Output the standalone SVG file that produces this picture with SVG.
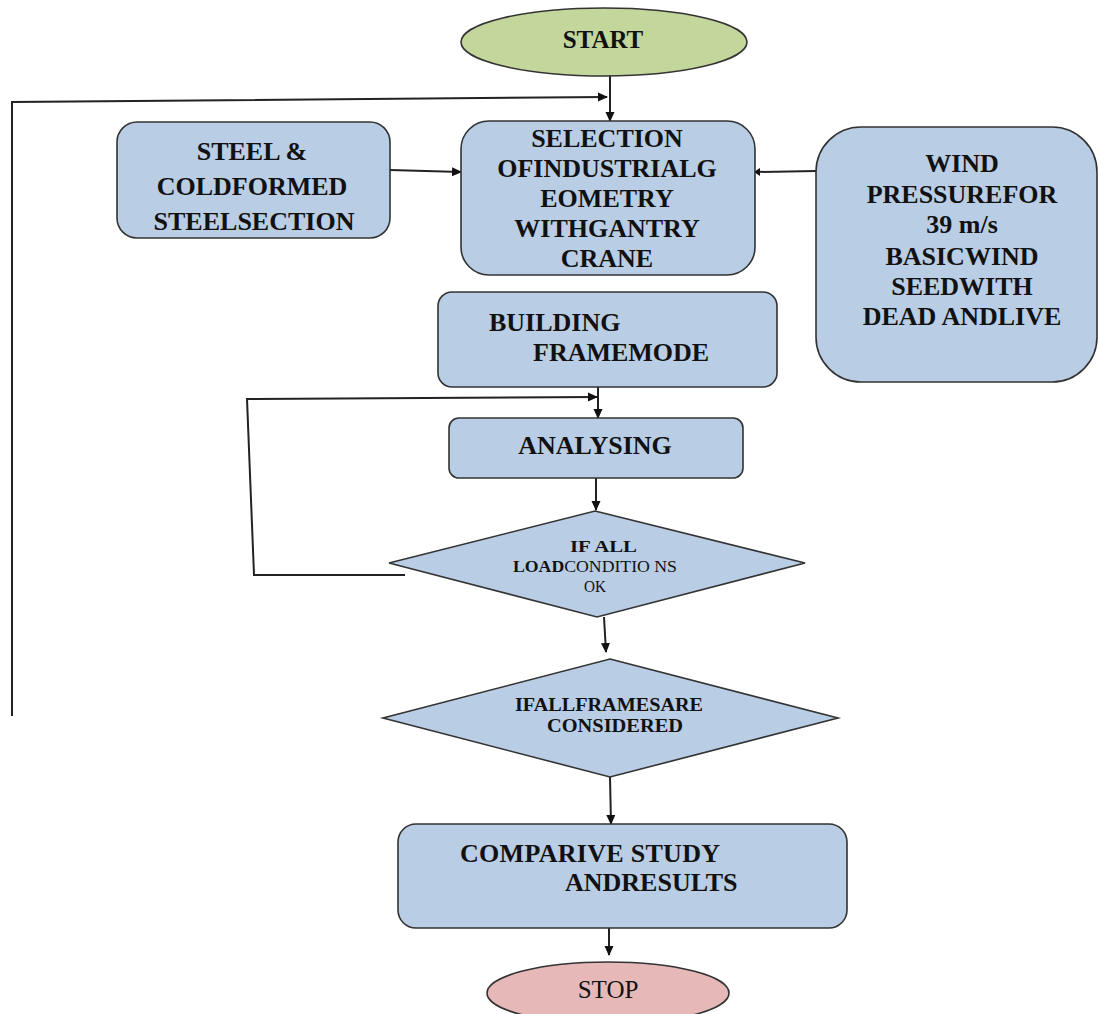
<svg xmlns="http://www.w3.org/2000/svg" width="1098" height="1014" viewBox="0 0 1098 1014">
<style>
.box{fill:#b9cde5;stroke:#333;stroke-width:1.6}
.t{font-family:"Liberation Serif","Times New Roman",serif;font-weight:bold;font-size:26px;fill:#111}
.c{text-anchor:middle}
.ln{fill:none;stroke:#222;stroke-width:2}
</style>
<defs>
<marker id="ah" markerWidth="10" markerHeight="10" refX="9" refY="5" orient="auto" markerUnits="userSpaceOnUse" viewBox="0 0 10 10">
<path d="M0,0.5 L10,5 L0,9.5 Z" fill="#111"/>
</marker>
<marker id="ahs" markerWidth="6" markerHeight="8" refX="5" refY="4" orient="auto" markerUnits="userSpaceOnUse" viewBox="0 0 6 8">
<path d="M0,0 L6,4 L0,8 Z" fill="#111"/>
</marker>
</defs>
<rect width="1098" height="1014" fill="#fff"/>

<g id="connectors">
<line class="ln" x1="610" y1="76" x2="610" y2="121" marker-end="url(#ah)"/>
<polyline class="ln" points="12,716 12,102 607,97" marker-end="url(#ah)"/>
<line class="ln" x1="390" y1="170" x2="461" y2="172" marker-end="url(#ah)"/>
<line class="ln" x1="816" y1="171" x2="755" y2="172" marker-end="url(#ahs)"/>
<line class="ln" x1="598" y1="387" x2="598" y2="418" marker-end="url(#ah)"/>
<polyline class="ln" points="405,575 254,575 247,399 597,397" marker-end="url(#ah)"/>
<line class="ln" x1="596" y1="478" x2="596" y2="510" marker-end="url(#ah)"/>
<line class="ln" x1="604" y1="617" x2="606" y2="652" marker-end="url(#ah)"/>
<line class="ln" x1="610" y1="777" x2="611" y2="824" marker-end="url(#ah)"/>
<line class="ln" x1="609" y1="928" x2="609" y2="955" marker-end="url(#ah)"/>
</g>

<g id="start">
<ellipse cx="604" cy="42" rx="143" ry="34" fill="#c3d69b" stroke="#333" stroke-width="1.6"/>
<text class="t c" x="603" y="48" style="font-size:25px">START</text>
</g>

<g id="selection">
<rect class="box" x="461" y="121" width="294" height="154" rx="28"/>
<text class="t c" x="607" y="147">SELECTION</text>
<text class="t c" x="607" y="177">OFINDUSTRIALG</text>
<text class="t c" x="607" y="207">EOMETRY</text>
<text class="t c" x="607" y="237">WITHGANTRY</text>
<text class="t c" x="607" y="267">CRANE</text>
</g>

<g id="steel">
<rect class="box" x="117" y="122" width="273" height="116" rx="20"/>
<text class="t c" x="252" y="160">STEEL &amp;</text>
<text class="t c" x="252" y="195">COLDFORMED</text>
<text class="t c" x="254" y="230">STEELSECTION</text>
</g>

<g id="wind">
<rect class="box" x="816" y="127" width="281" height="255" rx="45"/>
<text class="t c" x="962" y="172">WIND</text>
<text class="t c" x="962" y="203">PRESSUREFOR</text>
<text class="t c" x="962" y="233">39 m/s</text>
<text class="t c" x="962" y="265">BASICWIND</text>
<text class="t c" x="962" y="295">SEEDWITH</text>
<text class="t c" x="962" y="325">DEAD ANDLIVE</text>
</g>

<g id="building">
<rect class="box" x="438" y="292" width="339" height="95" rx="14"/>
<text class="t" x="489" y="331">BUILDING</text>
<text class="t" x="533" y="361">FRAMEMODE</text>
</g>

<g id="analysing">
<rect class="box" x="449" y="418" width="294" height="60" rx="10"/>
<text class="t c" x="595" y="454">ANALYSING</text>
</g>

<g id="loadcheck">
<polygon class="box" points="595,511 805,563 597,617 389,563"/>
<text class="t" x="570" y="552" style="font-size:17px" textLength="67" lengthAdjust="spacingAndGlyphs">IF ALL</text>
<text class="t" x="513" y="572" style="font-size:17px" textLength="164" lengthAdjust="spacingAndGlyphs"><tspan>LOAD</tspan><tspan style="font-weight:normal">CONDITIO NS</tspan></text>
<text class="t" x="584" y="592" style="font-size:17px;font-weight:normal" textLength="22" lengthAdjust="spacingAndGlyphs">OK</text>
</g>

<g id="framecheck">
<polygon class="box" points="610,659 838,718 610,777 383,718"/>
<text class="t" x="515" y="711" style="font-size:18px" textLength="188" lengthAdjust="spacingAndGlyphs">IFALLFRAMESARE</text>
<text class="t" x="547" y="732" style="font-size:18px" textLength="136" lengthAdjust="spacingAndGlyphs">CONSIDERED</text>
</g>

<g id="comparive">
<rect class="box" x="398" y="824" width="449" height="104" rx="18"/>
<text class="t" x="460" y="862" textLength="260" lengthAdjust="spacing">COMPARIVE STUDY</text>
<text class="t" x="565" y="891">ANDRESULTS</text>
</g>

<g id="stop">
<ellipse cx="608" cy="993" rx="121" ry="31" fill="#e6b9b8" stroke="#333" stroke-width="1.6"/>
<text class="t c" x="608" y="998" style="font-size:25px;font-weight:normal">STOP</text>
</g>
</svg>
